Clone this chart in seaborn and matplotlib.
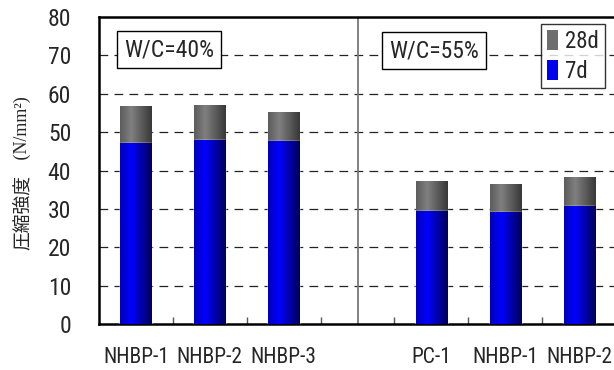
import numpy as np
import pandas as pd
import matplotlib
matplotlib.use("Agg")
import matplotlib.pyplot as plt
from matplotlib import font_manager as fm
import seaborn as sns
from matplotlib.patches import Patch
from matplotlib.colors import LinearSegmentedColormap

# --- data -------------------------------------------------------------
groups = ["40", "40", "40", "", "55", "55", "55"]
labels = ["NHBP-1", "NHBP-2", "NHBP-3", "", "PC-1", "NHBP-1", "NHBP-2"]
strength_7d = [47.1, 47.9, 47.6, np.nan, 29.5, 29.2, 30.7]
strength_28d = [56.7, 57.0, 55.1, np.nan, 37.2, 36.5, 38.3]
yticks = [0, 10, 20, 30, 40, 50, 60, 70, 80]
panel_titles = ["W/C=40%", "W/C=55%"]
legend_labels = ["28d", "7d"]

keys = [f"{g}|{l}" if l else "gap" for g, l in zip(groups, labels)]
df = pd.DataFrame({"key": keys, "d7": strength_7d, "d28": strength_28d})

# --- pick a narrow sans face for the Latin labels ---------------------
def narrow_font():
    names = {f.name for f in fm.fontManager.ttflist}
    for cand in ["Liberation Sans Narrow", "Roboto Condensed",
                 "Open Sans Condensed", "DejaVu Sans Condensed"]:
        if cand in names:
            return dict(family=cand)
    for f in fm.fontManager.ttflist:
        if f.name == "DejaVu Sans" and str(f.stretch) in ("condensed", "semi-condensed"):
            return dict(family="DejaVu Sans", stretch="condensed")
    return dict(family="Noto Sans CJK JP")

NARROW = narrow_font()

sns.set_theme(style="white")
plt.rcParams["font.family"] = [NARROW["family"], "DejaVu Sans"]
if "stretch" in NARROW:
    plt.rcParams["font.stretch"] = NARROW["stretch"]

W, H = 614, 370
fig = plt.figure(figsize=(W / 100, H / 100), dpi=100)
ax = fig.add_axes([99 / W, (H - 324.3) / H, (616 - 99) / W, (324.3 - 16.7) / H])

gray = "#6e6e6e"
blue = "#0000f0"
bw = 0.42
sns.barplot(data=df, x="key", y="d28", order=keys, color=gray, width=bw,
            saturation=1, ax=ax, zorder=3)
sns.barplot(data=df, x="key", y="d7", order=keys, color=blue, width=bw,
            saturation=1, ax=ax, zorder=4)

# horizontal shading across each bar
gray_cmap = LinearSegmentedColormap.from_list(
    "g", [(0.0, "#5c5c5c"), (0.35, "#808080"), (1.0, "#383838")])
blue_cmap = LinearSegmentedColormap.from_list(
    "b", [(0.0, "#0000b8"), (0.35, "#0000ff"), (1.0, "#000058")])
grad = np.linspace(0, 1, 64).reshape(1, -1)
for p in list(ax.patches):
    h = p.get_height()
    if not np.isfinite(h) or h <= 0:
        continue
    fc = p.get_facecolor()
    cmap = blue_cmap if fc[2] > 0.8 and fc[0] < 0.2 else gray_cmap
    x0, w = p.get_x(), p.get_width()
    im = ax.imshow(grad, cmap=cmap, aspect="auto",
                   extent=[x0, x0 + w, 0, h], zorder=p.get_zorder() + 0.1,
                   interpolation="bilinear")
    im.set_clip_path(p)

ax.set_xlim(-0.5, len(keys) - 0.5)
ax.set_ylim(0, 80)
ax.set_yticks(yticks)
ax.set_yticklabels([str(v) for v in yticks], fontsize=17)
ax.tick_params(axis="y", length=0, pad=20)

ax.set_xticks(range(len(keys)))
ax.set_xticklabels(labels, fontsize=15.5)
ax.tick_params(axis="x", which="major", length=0, pad=16)
ax.set_xticks(np.arange(0.5, len(keys) - 0.5, 1), minor=True)
ax.tick_params(axis="x", which="minor", direction="in", length=5,
               width=1, color="#555555", bottom=True)
ax.set_xlabel("")
ax.set_ylabel("")

# dashed reference lines
for v in yticks[1:-1]:
    ax.axhline(v, color="#222222", lw=0.9, ls=(0, (7, 5)), zorder=1)

# separator between the two mixes
ax.axvline(3, color="#777777", lw=1.3, zorder=2)

for side in ["left", "bottom", "top"]:
    ax.spines[side].set_visible(True)
    ax.spines[side].set_color("black")
    ax.spines[side].set_linewidth(1.8)
ax.spines["right"].set_visible(False)

# mix captions
box = dict(boxstyle="square,pad=0.3", fc="white", ec="black", lw=1)
ax.text(0.135, 0.893, panel_titles[0], transform=ax.transAxes,
        ha="center", va="center", fontsize=17, bbox=box, zorder=6)
ax.text(0.648, 0.889, panel_titles[1], transform=ax.transAxes,
        ha="center", va="center", fontsize=17, bbox=box, zorder=6)

handles = [Patch(facecolor=gray, edgecolor="none"),
           Patch(facecolor=blue, edgecolor="none")]
leg = ax.legend(handles, legend_labels, loc="upper left",
                bbox_to_anchor=(442 / 517, 0.976), frameon=True, fancybox=False,
                fontsize=16.5, handlelength=0.5, handleheight=0.95,
                handletextpad=0.3, borderpad=0.25, labelspacing=0.3,
                borderaxespad=0)
leg.get_frame().set_edgecolor("black")
leg.get_frame().set_linewidth(1)
leg.set_zorder(7)

# y-axis title in two faces
fig.text(22 / W, (H - 212) / H, "圧縮強度", rotation=90, ha="center", va="center",
         fontsize=13.5, family=["Noto Sans CJK JP", "DejaVu Sans"], stretch="normal")
fig.text(22 / W, (H - 128) / H, " (N/mm²) ", rotation=90, ha="center", va="center",
         fontsize=13, family=["Liberation Serif", "DejaVu Serif"], stretch="normal")

fig.savefig("out.png", dpi=100)
